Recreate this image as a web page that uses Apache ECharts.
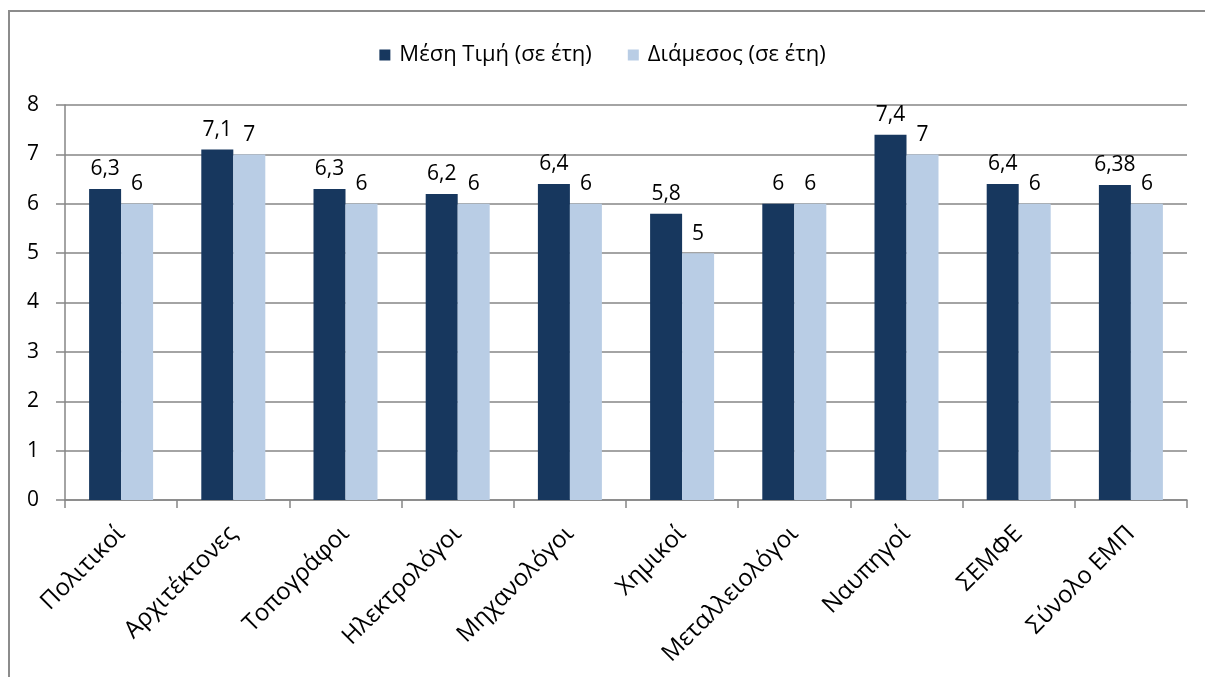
<!DOCTYPE html>
<html>
<head>
<meta charset="utf-8">
<script src="https://cdn.jsdelivr.net/npm/echarts@6/dist/echarts.min.js"></script>
<style>
  html, body { margin: 0; padding: 0; background: #fff; }
  #chart { width: 1205px; height: 677px; }
</style>
</head>
<body>
<div id="chart"></div>
<script>
const categories = ['Πολιτικοί', 'Αρχιτέκτονες', 'Τοπογράφοι', 'Ηλεκτρολόγοι', 'Μηχανολόγοι',
  'Χημικοί', 'Μεταλλειολόγοι', 'Ναυπηγοί', 'ΣΕΜΦΕ', 'Σύνολο ΕΜΠ']
const meanValues = [6.3, 7.1, 6.3, 6.2, 6.4, 5.8, 6, 7.4, 6.4, 6.38]
const medianValues = [6, 7, 6, 6, 6, 5, 6, 7, 6, 6]
const seriesNames = ['Μέση Τιμή (σε έτη)', 'Διάμεσος (σε έτη)']

const font = '"Open Sans", "Noto Sans", sans-serif'
const gridColor = '#868686'

const chart = echarts.init(document.getElementById('chart'))

// Excel style: decimal comma
const fmt = p => String(p.value).replace('.', ',')

const options = {
  animation: false,
  textStyle: { fontFamily: font },
  graphic: [
    {
      type: 'rect',
      shape: { x: 9, y: 11, width: 1220, height: 700 },
      style: { fill: 'none', stroke: '#8c8c8c', lineWidth: 2 },
      silent: true
    }
  ],
  legend: {
    top: 39,
    left: 'center',
    itemWidth: 11,
    itemHeight: 11,
    itemGap: 36,
    icon: 'rect',
    textStyle: { fontSize: 22, color: '#000', fontFamily: font, padding: [0, 0, 0, 4] },
    data: seriesNames
  },
  grid: {
    left: 65,
    right: 18,
    top: 105,
    bottom: 177,
    containLabel: false
  },
  xAxis: {
    type: 'category',
    data: categories,
    axisLine: { lineStyle: { color: gridColor, width: 1.5 } },
    axisTick: { show: true, length: 8, alignWithLabel: false, lineStyle: { color: gridColor, width: 1.5 } },
    axisLabel: {
      rotate: 45,
      margin: 30,
      fontSize: 24,
      color: '#000',
      fontFamily: font,
      interval: 0
    }
  },
  yAxis: {
    type: 'value',
    min: 0,
    max: 8,
    interval: 1,
    axisLine: { show: true, lineStyle: { color: gridColor, width: 1.5 } },
    axisTick: { show: true, length: 9, lineStyle: { color: gridColor, width: 1.5 } },
    axisLabel: { fontSize: 21, color: '#000', margin: 26, fontFamily: font },
    splitLine: { lineStyle: { color: gridColor, width: 1.5 } }
  },
  series: [
    {
      name: seriesNames[0],
      type: 'bar',
      data: meanValues,
      barWidth: 32,
      barGap: '0%',
      itemStyle: { color: '#17375E' },
      label: {
        show: true,
        position: 'top',
        distance: 9,
        fontSize: 21,
        color: '#000',
        fontFamily: font,
        formatter: fmt
      }
    },
    {
      name: seriesNames[1],
      type: 'bar',
      data: medianValues,
      barWidth: 32,
      barGap: '0%',
      itemStyle: { color: '#B9CDE5' },
      label: {
        show: true,
        position: 'top',
        distance: 9,
        fontSize: 21,
        color: '#000',
        fontFamily: font,
        formatter: fmt
      }
    }
  ]
}
chart.setOption(options)
</script>
</body>
</html>
